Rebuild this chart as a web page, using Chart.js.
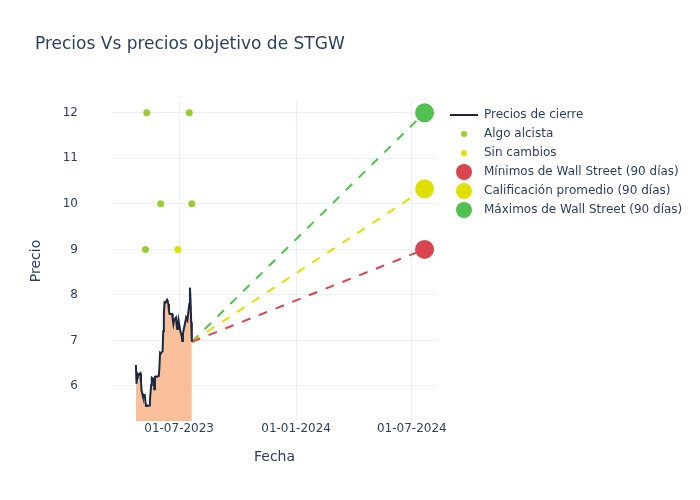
<!DOCTYPE html>
<html>
<head>
<meta charset="utf-8">
<script src="https://cdn.jsdelivr.net/npm/chart.js@4.4.0/dist/chart.umd.min.js"></script>
<style>
  body { margin: 0; background: #fff; }
  #wrap { width: 700px; height: 500px; position: relative; }
</style>
</head>
<body>
<div id="wrap"><canvas id="myChart" width="700" height="500"></canvas></div>
<script>
// Precios de cierre (fechas y valores)
var fechas = [
  '2023-04-24','2023-04-25','2023-04-26','2023-04-27','2023-04-28',
  '2023-05-01','2023-05-02','2023-05-03','2023-05-04','2023-05-05',
  '2023-05-08','2023-05-09','2023-05-10','2023-05-11','2023-05-12',
  '2023-05-15','2023-05-16','2023-05-17','2023-05-18','2023-05-19',
  '2023-05-22','2023-05-23','2023-05-24','2023-05-25','2023-05-26',
  '2023-05-30','2023-05-31','2023-06-01','2023-06-02',
  '2023-06-05','2023-06-06','2023-06-07','2023-06-08','2023-06-09',
  '2023-06-12','2023-06-13','2023-06-14','2023-06-15','2023-06-16',
  '2023-06-20','2023-06-21','2023-06-22','2023-06-23',
  '2023-06-26','2023-06-27','2023-06-28','2023-06-29','2023-06-30',
  '2023-07-03','2023-07-05','2023-07-06','2023-07-07',
  '2023-07-10','2023-07-11','2023-07-12','2023-07-13','2023-07-14',
  '2023-07-17','2023-07-18','2023-07-19','2023-07-20','2023-07-21'
];
var precios = [
  6.46, 6.05, 6.18, 6.26, 6.24,
  6.28, 6.10, 5.89, 5.84, 5.78,
  5.80, 5.66, 5.56, 5.58, 5.56,
  5.57, 5.67, 5.85, 6.02, 6.18,
  6.15, 5.93, 6.20, 6.21, 6.20,
  6.22, 6.40, 6.73, 6.72,
  6.76, 7.20, 7.58, 7.83, 7.82,
  7.89, 7.85, 7.80, 7.66, 7.58,
  7.58, 7.45, 7.36, 7.44,
  7.50, 7.35, 7.25, 7.33, 7.45,
  7.20, 7.10, 6.99, 7.15,
  7.36, 7.42, 7.50, 7.47, 7.45,
  7.80, 8.16, 7.87, 7.40, 6.97
];

// Recomendaciones de analistas
var alcistaFechas = ['2023-05-09', '2023-05-11', '2023-06-02', '2023-07-17', '2023-07-21'];
var alcistaValores = [9, 12, 10, 12, 10];
var sinCambiosFechas = ['2023-06-29'];
var sinCambiosValores = [9];

// Precios objetivo (90 dias)
var fechaObjetivo = '2024-07-21';
var objetivoMin = 9;
var objetivoProm = 10.33;
var objetivoMax = 12;

// Ejes
var xTicks = ['2023-07-01', '2024-01-01', '2024-07-01'];
var xMin = '2023-03-19';
var xMax = '2024-08-08';
var yTicks = [6, 7, 8, 9, 10, 11, 12];
var yMin = 5.23;
var yMax = 12.26;

function ts(s) {
  var p = s.split('-');
  return Date.UTC(+p[0], +p[1] - 1, +p[2]);
}
function pad(n) { return n < 10 ? '0' + n : '' + n; }

var ultimaFecha = fechas[fechas.length - 1];
var ultimoPrecio = precios[precios.length - 1];

var serieCierre = fechas.map(function (f, i) { return {x: ts(f), y: precios[i]}; });
var serieAlcista = alcistaFechas.map(function (f, i) { return {x: ts(f), y: alcistaValores[i]}; });
var serieSinCambios = sinCambiosFechas.map(function (f, i) { return {x: ts(f), y: sinCambiosValores[i]}; });

function lineaObjetivo(valor) {
  return [{x: ts(ultimaFecha), y: ultimoPrecio}, {x: ts(fechaObjetivo), y: valor}];
}

var textColor = '#2a3f5f';
var gridColor = '#ebf0f8';
var fuente = 'DejaVu Sans';

// Leyenda dibujada a mano (estilo plotly)
var leyenda = {
  id: 'leyenda',
  afterDraw: function (chart) {
    var ctx = chart.ctx;
    var items = chart.data.datasets;
    ctx.save();
    ctx.font = '12px "' + fuente + '"';
    ctx.textBaseline = 'middle';
    ctx.textAlign = 'left';
    for (var i = 0; i < items.length; i++) {
      var ds = items[i];
      var y = 115 + i * 19;
      if (ds.legendType === 'line') {
        ctx.strokeStyle = ds.borderColor;
        ctx.lineWidth = 2;
        ctx.beginPath();
        ctx.moveTo(450, y);
        ctx.lineTo(478, y);
        ctx.stroke();
      } else {
        ctx.fillStyle = ds.legendColor;
        ctx.beginPath();
        ctx.arc(464, y, ds.legendRadius, 0, Math.PI * 2);
        ctx.fill();
      }
      ctx.fillStyle = textColor;
      ctx.fillText(ds.label, 484, y);
    }
    // titulo
    ctx.font = '17px "' + fuente + '"';
    ctx.textBaseline = 'middle';
    ctx.fillText('Precios Vs precios objetivo de STGW', 35, 45);
    ctx.restore();
  }
};

new Chart('myChart', {
  type: 'line',
  data: {
    datasets: [{
      label: 'Precios de cierre',
      data: serieCierre,
      borderColor: '#1c2840',
      borderWidth: 2,
      backgroundColor: '#f9bf9a',
      fill: 'start',
      pointRadius: 0,
      tension: 0,
      legendType: 'line'
    }, {
      label: 'Algo alcista',
      data: serieAlcista,
      showLine: false,
      pointRadius: 3.5,
      pointBackgroundColor: '#9acd32',
      pointBorderWidth: 0,
      legendColor: '#9acd32',
      legendRadius: 3
    }, {
      label: 'Sin cambios',
      data: serieSinCambios,
      showLine: false,
      pointRadius: 3.5,
      pointBackgroundColor: '#e0e000',
      pointBorderWidth: 0,
      legendColor: '#e0e000',
      legendRadius: 3
    }, {
      label: 'Mínimos de Wall Street (90 días)',
      data: lineaObjetivo(objetivoMin),
      borderColor: '#d9454f',
      borderWidth: 2,
      borderDash: [9, 9],
      pointRadius: [0, 9.5],
      pointBackgroundColor: '#d9454f',
      pointBorderWidth: 0,
      fill: false,
      legendColor: '#d9454f',
      legendRadius: 8
    }, {
      label: 'Calificación promedio (90 días)',
      data: lineaObjetivo(objetivoProm),
      borderColor: '#e0e000',
      borderWidth: 2,
      borderDash: [9, 9],
      pointRadius: [0, 9.5],
      pointBackgroundColor: '#e0e000',
      pointBorderWidth: 0,
      fill: false,
      legendColor: '#e0e000',
      legendRadius: 8
    }, {
      label: 'Máximos de Wall Street (90 días)',
      data: lineaObjetivo(objetivoMax),
      borderColor: '#50c150',
      borderWidth: 2,
      borderDash: [9, 9],
      pointRadius: [0, 9.5],
      pointBackgroundColor: '#50c150',
      pointBorderWidth: 0,
      fill: false,
      legendColor: '#50c150',
      legendRadius: 8
    }]
  },
  options: {
    responsive: false,
    animation: false,
    clip: false,
    layout: { padding: { left: 24, top: 101, right: 264, bottom: 30 } },
    plugins: {
      legend: { display: false },
      tooltip: { enabled: false }
    },
    scales: {
      x: {
        type: 'linear',
        min: ts(xMin),
        max: ts(xMax),
        afterBuildTicks: function (axis) {
          axis.ticks = xTicks.map(function (t) { return {value: ts(t)}; });
        },
        afterFit: function (axis) { axis.height = 49; },
        ticks: {
          color: textColor,
          font: { family: fuente, size: 12 },
          padding: 1,
          maxRotation: 0,
          callback: function (v) {
            var d = new Date(v);
            return pad(d.getUTCDate()) + '-' + pad(d.getUTCMonth() + 1) + '-' + d.getUTCFullYear();
          }
        },
        grid: { color: gridColor, drawTicks: false },
        border: { display: false },
        title: {
          display: true,
          text: 'Fecha',
          color: textColor,
          font: { family: fuente, size: 14 }
        }
      },
      y: {
        min: yMin,
        max: yMax,
        afterBuildTicks: function (axis) {
          axis.ticks = yTicks.map(function (t) { return {value: t}; });
        },
        afterFit: function (axis) { axis.width = 89; },
        ticks: {
          color: textColor,
          font: { family: fuente, size: 12 },
          padding: 35
        },
        grid: { color: gridColor, drawTicks: false },
        border: { display: false },
        title: {
          display: true,
          text: 'Precio',
          color: textColor,
          font: { family: fuente, size: 14 }
        }
      }
    }
  },
  plugins: [leyenda]
});
</script>
</body>
</html>
